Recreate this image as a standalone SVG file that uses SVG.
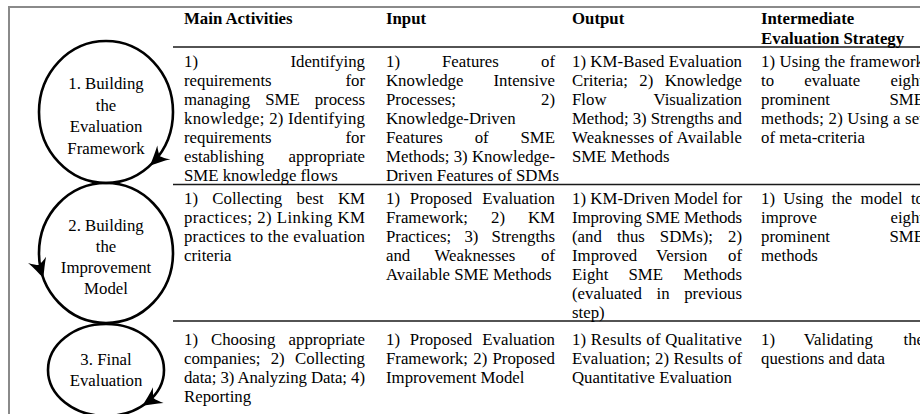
<svg xmlns="http://www.w3.org/2000/svg" width="920" height="414" viewBox="0 0 920 414">
<style>
text{font-family:"Liberation Serif","Times New Roman",serif;font-size:16.8px;fill:#000}
.h{font-weight:bold}
.r{text-anchor:end}
.c{text-anchor:middle}
.rule{stroke:#1a1a1a;stroke-width:1.3;fill:none}
.border{stroke:#8a8a8a;stroke-width:2;fill:none}
.ring{fill:none;stroke:#000;stroke-width:2.6}
.ah{fill:#000}
</style>
<defs>
<path id="ah" class="ah" d="M1,0 C-5,-3 -12,-6 -18,-9.5 C-15,-5.5 -13.5,-2.5 -12.5,0 C-13.5,2.5 -15,5.5 -18,9.5 C-12,6 -5,3 1,0 Z"/>
</defs>
<g id="frame">
<line class="border" x1="8" y1="7" x2="920" y2="7"/>
<line class="border" x1="9" y1="6" x2="9" y2="414"/>
<line class="rule" x1="173" y1="47" x2="920" y2="47"/>
<line class="rule" x1="173" y1="184.5" x2="920" y2="184.5"/>
<line class="rule" x1="173" y1="321" x2="920" y2="321"/>
</g>
<g id="step1">
<ellipse class="ring" cx="106" cy="112" rx="67" ry="71"/>
<text class="c" x="106" y="89">1. Building</text>
<text class="c" x="106" y="110.5">the</text>
<text class="c" x="106" y="132">Evaluation</text>
<text class="c" x="106" y="153.5">Framework</text>
</g>
<g id="step2">
<ellipse class="ring" cx="106" cy="253" rx="67" ry="70"/>
<text class="c" x="106" y="231">2. Building</text>
<text class="c" x="106" y="252">the</text>
<text class="c" x="106" y="273">Improvement</text>
<text class="c" x="106" y="294">Model</text>
</g>
<g id="step3">
<ellipse class="ring" cx="106" cy="370" rx="58" ry="46"/>
<text class="c" x="106" y="365">3. Final</text>
<text class="c" x="106" y="386">Evaluation</text>
</g>
<g id="connectors">
<use href="#ah" transform="translate(150.8,164.8) rotate(136.4)"/>
<use href="#ah" transform="translate(43,276.9) rotate(70.8)"/>
<use href="#ah" transform="translate(143.3,405.2) rotate(146.3)"/>
</g>
<g id="header">
<text class="h" x="184" y="23.5">Main Activities</text>
<text class="h" x="386" y="23.5">Input</text>
<text class="h" x="572" y="23.5">Output</text>
<text class="h" x="761" y="23.5">Intermediate</text>
<text class="h" x="761" y="43.5">Evaluation Strategy</text>
</g>
<g id="row1">
<text x="184" y="66.5">1)</text><text class="r" x="365" y="66.5">Identifying</text>
<text x="184" y="85.5">requirements</text><text class="r" x="365" y="85.5">for</text>
<text x="184" y="104.5">managing</text><text x="265.2" y="104.5">SME</text><text class="r" x="365" y="104.5">process</text>
<text x="184" y="123.5" textLength="181" lengthAdjust="spacing">knowledge; 2) Identifying</text>
<text x="184" y="142.5">requirements</text><text class="r" x="365" y="142.5">for</text>
<text x="184" y="161.5">establishing</text><text class="r" x="365" y="161.5">appropriate</text>
<text x="184" y="180.5">SME knowledge flows</text>

<text x="386" y="66.5">1)</text><text x="442" y="66.5">Features</text><text class="r" x="555" y="66.5">of</text>
<text x="386" y="85.5">Knowledge</text><text class="r" x="555" y="85.5">Intensive</text>
<text x="386" y="104.5">Processes;</text><text class="r" x="555" y="104.5">2)</text>
<text x="386" y="123.5">Knowledge-Driven</text>
<text x="386" y="142.5">Features</text><text x="474.7" y="142.5">of</text><text class="r" x="555" y="142.5">SME</text>
<text x="386" y="161.5" textLength="169" lengthAdjust="spacing">Methods; 3) Knowledge-</text>
<text x="386" y="180.5">Driven Features of SDMs</text>

<text x="572" y="66.5" textLength="170" lengthAdjust="spacing">1) KM-Based Evaluation</text>
<text x="572" y="85.5">Criteria;</text><text x="639.3" y="85.5">2)</text><text class="r" x="742" y="85.5">Knowledge</text>
<text x="572" y="104.5">Flow</text><text class="r" x="742" y="104.5">Visualization</text>
<text x="572" y="123.5" textLength="170" lengthAdjust="spacing">Method; 3) Strengths and</text>
<text x="572" y="142.5" textLength="170" lengthAdjust="spacing">Weaknesses of Available</text>
<text x="572" y="161.5">SME Methods</text>

<text x="761" y="66.5" textLength="163" lengthAdjust="spacing">1) Using the framework</text>
<text x="761" y="85.5">to</text><text x="804.2" y="85.5">evaluate</text><text class="r" x="924" y="85.5">eight</text>
<text x="761" y="104.5">prominent</text><text class="r" x="924" y="104.5">SME</text>
<text x="761" y="123.5" textLength="163" lengthAdjust="spacing">methods; 2) Using a set</text>
<text x="761" y="142.5">of meta-criteria</text>
</g>
<g id="row2">
<text x="184" y="203.5">1)</text><text x="212.3" y="203.5">Collecting</text><text x="296.6" y="203.5">best</text><text class="r" x="365" y="203.5">KM</text>
<text x="184" y="222.5" textLength="181" lengthAdjust="spacing">practices; 2) Linking KM</text>
<text x="184" y="241.5" textLength="181" lengthAdjust="spacing">practices to the evaluation</text>
<text x="184" y="260.5">criteria</text>

<text x="386" y="203.5">1)</text><text x="409.8" y="203.5">Proposed</text><text class="r" x="555" y="203.5">Evaluation</text>
<text x="386" y="222.5">Framework;</text><text x="491" y="222.5">2)</text><text class="r" x="555" y="222.5">KM</text>
<text x="386" y="241.5">Practices;</text><text x="464.4" y="241.5">3)</text><text class="r" x="555" y="241.5">Strengths</text>
<text x="386" y="260.5">and</text><text x="434.6" y="260.5">Weaknesses</text><text class="r" x="555" y="260.5">of</text>
<text x="386" y="279.5">Available SME Methods</text>

<text x="572" y="203.5" textLength="170" lengthAdjust="spacing">1) KM-Driven Model for</text>
<text x="572" y="222.5" textLength="170" lengthAdjust="spacing">Improving SME Methods</text>
<text x="572" y="241.5">(and</text><text x="616.9" y="241.5">thus</text><text x="659.8" y="241.5">SDMs);</text><text class="r" x="742" y="241.5">2)</text>
<text x="572" y="260.5">Improved</text><text x="656" y="260.5">Version</text><text class="r" x="742" y="260.5">of</text>
<text x="572" y="279.5">Eight</text><text x="628.5" y="279.5">SME</text><text class="r" x="742" y="279.5">Methods</text>
<text x="572" y="298.5">(evaluated</text><text x="656.5" y="298.5">in</text><text class="r" x="742" y="298.5">previous</text>
<text x="572" y="317.5">step)</text>

<text x="761" y="203.5">1)</text><text x="783.3" y="203.5">Using</text><text x="831.8" y="203.5">the</text><text x="860.6" y="203.5">model</text><text class="r" x="924" y="203.5">to</text>
<text x="761" y="222.5">improve</text><text class="r" x="924" y="222.5">eight</text>
<text x="761" y="241.5">prominent</text><text class="r" x="924" y="241.5">SME</text>
<text x="761" y="260.5">methods</text>
</g>
<g id="row3">
<text x="184" y="344.5">1)</text><text x="211" y="344.5">Choosing</text><text class="r" x="365" y="344.5">appropriate</text>
<text x="184" y="363.5">companies;</text><text x="270.7" y="363.5">2)</text><text class="r" x="365" y="363.5">Collecting</text>
<text x="184" y="382.5" textLength="181" lengthAdjust="spacing">data; 3) Analyzing Data; 4)</text>
<text x="184" y="401.5">Reporting</text>

<text x="386" y="344.5">1)</text><text x="409.8" y="344.5">Proposed</text><text class="r" x="555" y="344.5">Evaluation</text>
<text x="386" y="363.5">Framework;</text><text x="473.3" y="363.5">2)</text><text class="r" x="555" y="363.5">Proposed</text>
<text x="386" y="382.5">Improvement Model</text>

<text x="572" y="344.5" textLength="170" lengthAdjust="spacing">1) Results of Qualitative</text>
<text x="572" y="363.5" textLength="170" lengthAdjust="spacing">Evaluation; 2) Results of</text>
<text x="572" y="382.5">Quantitative Evaluation</text>

<text x="761" y="344.5">1)</text><text x="803.8" y="344.5">Validating</text><text class="r" x="924" y="344.5">the</text>
<text x="761" y="363.5">questions and data</text>
</g>
</svg>
